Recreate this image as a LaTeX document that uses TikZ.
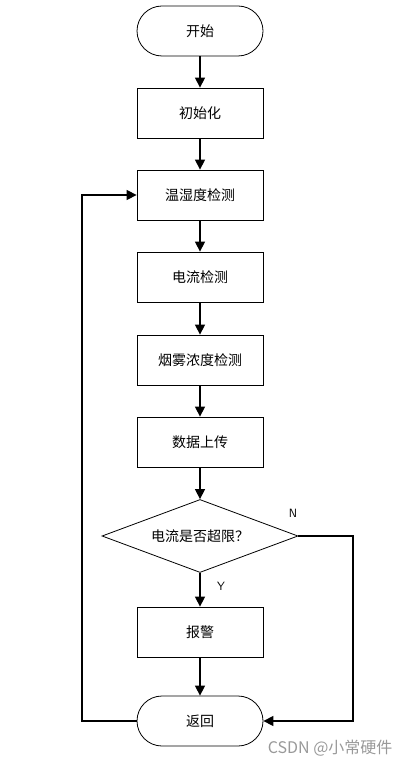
\documentclass[tikz,border=0pt]{standalone}
\usepackage{fontspec}
\newfontfamily\cjk{Noto Sans CJK SC}
\usetikzlibrary{shapes.geometric,arrows.meta}
\begin{document}
\begin{tikzpicture}[x=1pt,y=-1pt,
  every node/.style={font=\cjk\fontsize{14}{16}\selectfont},
  procbox/.style={draw,line width=0.8pt,minimum width=126pt,minimum height=50pt,inner sep=0pt},
  termbox/.style={draw,line width=0.8pt,rounded corners=25pt,minimum width=126pt,minimum height=50pt,inner sep=0pt},
  decbox/.style={draw,line width=0.8pt,diamond,aspect=2.7,minimum width=196pt,minimum height=73pt,inner sep=0pt},
  flow/.style={line width=1.4pt,-{Triangle[length=10pt,width=10pt]}},
  lbl/.style={font=\sffamily\fontsize{12}{14}\selectfont}
]
\useasboundingbox (0,0) rectangle (408,767);
\node[termbox] (start) at (200,31) {开始};
\node[procbox] (init) at (200,113) {初始化};
\node[procbox] (temp) at (200,195) {温湿度检测};
\node[procbox] (curr) at (200,277) {电流检测};
\node[procbox] (smoke) at (200,360) {烟雾浓度检测};
\node[procbox] (upl) at (200,442) {数据上传};
\node[decbox] (dec) at (200,536) {电流是否超限？};
\node[procbox] (alarm) at (200,632) {报警};
\node[termbox] (ret) at (200,721) {返回};
\coordinate (lb) at (82,721);
\coordinate (lt) at (82,195);
\coordinate (rt) at (353,536);
\coordinate (rb) at (353,721);
\draw[flow] (start) -- (init);
\draw[flow] (init) -- (temp);
\draw[flow] (temp) -- (curr);
\draw[flow] (curr) -- (smoke);
\draw[flow] (smoke) -- (upl);
\draw[flow] (upl) -- (dec);
\draw[flow] (dec) -- (alarm);
\draw[flow] (alarm) -- (ret);
\draw[flow] (ret.west) -- (lb) -- (lt) -- (temp.west);
\draw[flow] (dec.east) -- (rt) -- (rb) -- (ret.east);
\node[lbl] (nlab) at (293,513) {N};
\node[lbl] (ylab) at (221,586) {Y};
\node[font=\cjk\fontsize{16}{18}\selectfont,text=black!40,anchor=east] (wm) at (396,748) {CSDN @小常硬件};
\end{tikzpicture}
\end{document}
